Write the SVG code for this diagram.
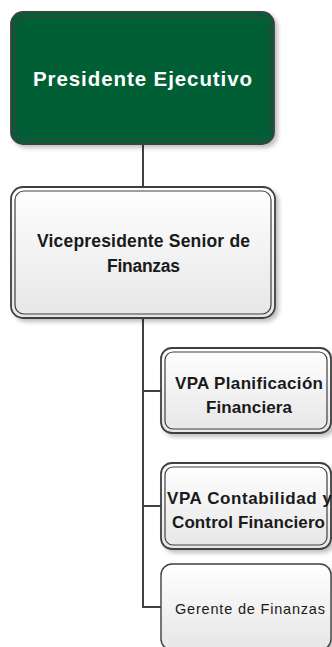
<svg xmlns="http://www.w3.org/2000/svg" width="332" height="647" viewBox="0 0 332 647">
<defs>
<linearGradient id="g" x1="0" y1="0" x2="0" y2="1"><stop offset="0" stop-color="#ffffff"/><stop offset="1" stop-color="#e6e6e6"/></linearGradient>
<filter id="sh" x="-10%" y="-10%" width="130%" height="130%"><feGaussianBlur in="SourceAlpha" stdDeviation="2"/><feOffset dx="3" dy="3"/><feComponentTransfer><feFuncA type="linear" slope="0.25"/></feComponentTransfer><feMerge><feMergeNode/><feMergeNode in="SourceGraphic"/></feMerge></filter>
</defs>
<style>
.outer{stroke:#404040;stroke-width:1.8}
.inner{fill:none;stroke:#404040;stroke-width:1.2}
.lt{fill:url(#g)}
.conn{stroke:#404040;stroke-width:2;fill:none}
text{font-family:"Liberation Sans",Arial,sans-serif;text-anchor:middle}
.b{font-weight:bold;fill:#1a1a1a}
</style>
<g id="connectors">
<line class="conn" x1="143" y1="144" x2="143" y2="187"/>
<polyline class="conn" points="143,318 143,607 161,607"/>
<line class="conn" x1="142" y1="391" x2="161" y2="391"/>
<line class="conn" x1="142" y1="506" x2="161" y2="506"/>
</g>
<g id="president">
<rect class="outer" x="11" y="12" width="263" height="132" rx="12" fill="#005e36" filter="url(#sh)"/>
<rect class="inner" x="15.5" y="16.5" width="254" height="123" rx="9" stroke="#505050"/>
<text x="142.5" y="86" font-size="20.5" font-weight="bold" fill="#ffffff" textLength="219" lengthAdjust="spacing">Presidente Ejecutivo</text>
</g>
<g id="vp-senior">
<rect class="outer lt" x="11" y="187" width="264" height="131" rx="12" filter="url(#sh)"/>
<rect class="inner" x="15" y="191" width="256" height="123" rx="9"/>
<text class="b" x="143.5" y="247" font-size="17.5" textLength="213" lengthAdjust="spacing">Vicepresidente Senior de</text>
<text class="b" x="143.5" y="272" font-size="17.5" textLength="73" lengthAdjust="spacing">Finanzas</text>
</g>
<g id="vpa-planificacion">
<rect class="outer lt" x="161" y="348" width="170" height="85" rx="11" filter="url(#sh)"/>
<rect class="inner" x="165" y="352" width="162" height="77" rx="8"/>
<text class="b" x="249" y="389" font-size="17" textLength="148" lengthAdjust="spacing">VPA Planificación</text>
<text class="b" x="249" y="413" font-size="17" textLength="86" lengthAdjust="spacing">Financiera</text>
</g>
<g id="vpa-contabilidad">
<rect class="outer lt" x="161" y="463" width="170" height="86" rx="11" filter="url(#sh)"/>
<rect class="inner" x="165" y="467" width="162" height="78" rx="8"/>
<text class="b" x="249.5" y="504" font-size="17" textLength="165" lengthAdjust="spacing">VPA Contabilidad y</text>
<text class="b" x="248.5" y="528" font-size="17" textLength="153" lengthAdjust="spacing">Control Financiero</text>
</g>
<g id="gerente-finanzas">
<rect x="161" y="564" width="170" height="86" rx="11" fill="url(#g)" stroke="#404040" stroke-width="1.4" filter="url(#sh)"/>
<text x="250" y="614" font-size="14.5" fill="#1a1a1a" textLength="150" lengthAdjust="spacing">Gerente de Finanzas</text>
</g>
</svg>
